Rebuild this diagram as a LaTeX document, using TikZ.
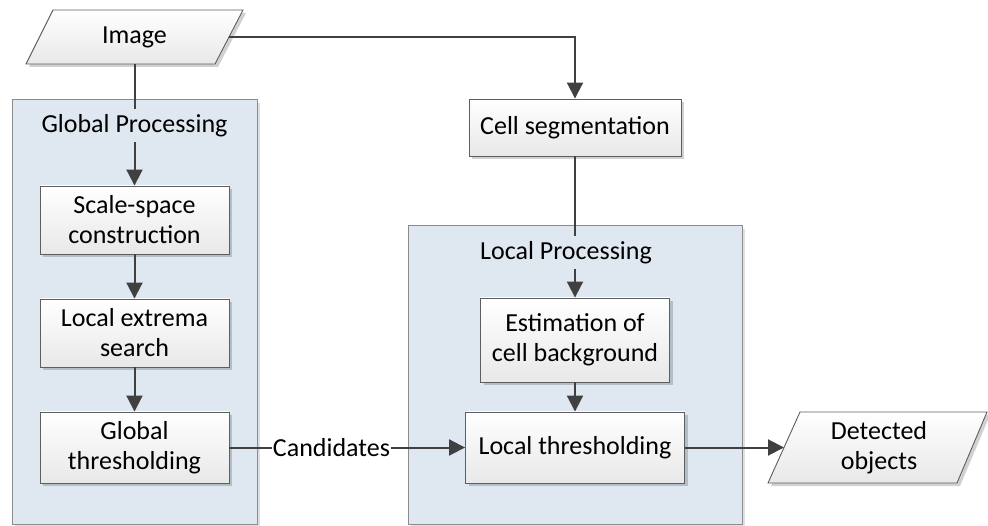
\documentclass[tikz,border=0pt]{standalone}
\usepackage{fontspec}
\setmainfont{Carlito}
\usetikzlibrary{arrows.meta,shadows}
\definecolor{contfill}{HTML}{DFE8F1}
\definecolor{contline}{HTML}{8C8C8C}
\definecolor{connc}{HTML}{404040}
\definecolor{boxline}{HTML}{5E5E5E}
\begin{document}
\begin{tikzpicture}[x=1pt,y=-1pt,
  font=\fontsize{26}{30}\selectfont,
  container/.style={draw=contline, fill=contfill, line width=1pt,
    drop shadow={shadow xshift=3pt, shadow yshift=-3pt, fill=black, opacity=0.12}},
  procbox/.style={draw=boxline, line width=0.9pt, top color=white, bottom color=black!9,
    align=center, inner sep=0pt,
    drop shadow={shadow xshift=3pt, shadow yshift=-3pt, fill=black, opacity=0.18}},
  parabox/.style={draw=boxline, line width=0.9pt, top color=white, bottom color=black!9,
    drop shadow={shadow xshift=3pt, shadow yshift=-3pt, fill=black, opacity=0.18}},
  txt/.style={align=center, inner sep=0pt},
  grouplbl/.style={fill=contfill, inner xsep=2pt, inner ysep=0pt, minimum height=33},
  arr/.style={draw=connc, line width=2pt, -{Triangle[length=16pt,width=16pt]}},
  plain/.style={draw=connc, line width=2pt}]
\useasboundingbox (0,0) rectangle (988,526);
% containers
\draw[container] (12,100) rectangle (257,524.5);
\draw[container] (408,226) rectangle (742,524.5);
% process boxes
\node[procbox, minimum width=189, minimum height=68] (sc) at (134.5,220) {Scale-space\\construction};
\node[procbox, minimum width=189, minimum height=68] (le) at (134.5,333) {Local extrema\\search};
\node[procbox, minimum width=189, minimum height=71] (gt) at (134.5,447.5) {Global\\thresholding};
\node[procbox, minimum width=212, minimum height=57] (cs) at (575,127.5) {Cell segmentation};
\node[procbox, minimum width=189, minimum height=84] (est) at (575,340) {Estimation of\\cell background};
\node[procbox, minimum width=219, minimum height=71] (lt) at (575,447.5) {Local thresholding};
% input / output parallelograms
\draw[parabox] (53,10) -- (243,10) -- (215,64) -- (26,64) -- cycle;
\node[txt] (img) at (134.5,37) {Image};
\coordinate (imgR) at (229,37);
\coordinate (imgB) at (134.5,64);
\draw[parabox] (800,412) -- (987,412) -- (957,483) -- (768,483) -- cycle;
\node[txt] (det) at (879,447.5) {Detected\\objects};
\coordinate (detL) at (784,447.5);
% connectors
\draw[arr] (imgB) -- (sc.north);
\draw[arr] (sc.south) -- (le.north);
\draw[arr] (le.south) -- (gt.north);
\draw[arr] (imgR) -| (cs.north);
\draw[arr] (cs.south) -- (est.north);
\draw[arr] (est.south) -- (lt.north);
\draw[arr] (gt.east) -- node[pos=0.433, fill=white, inner xsep=1pt, inner ysep=2pt] (cand) {Candidates} (lt.west);
\draw[arr] (lt.east) -- (detL);
% group labels
\node[grouplbl] (gpl) at (134.5,125.5) {Global Processing};
\node[grouplbl] (lpl) at (566,252.5) {Local Processing};
\end{tikzpicture}
\end{document}
